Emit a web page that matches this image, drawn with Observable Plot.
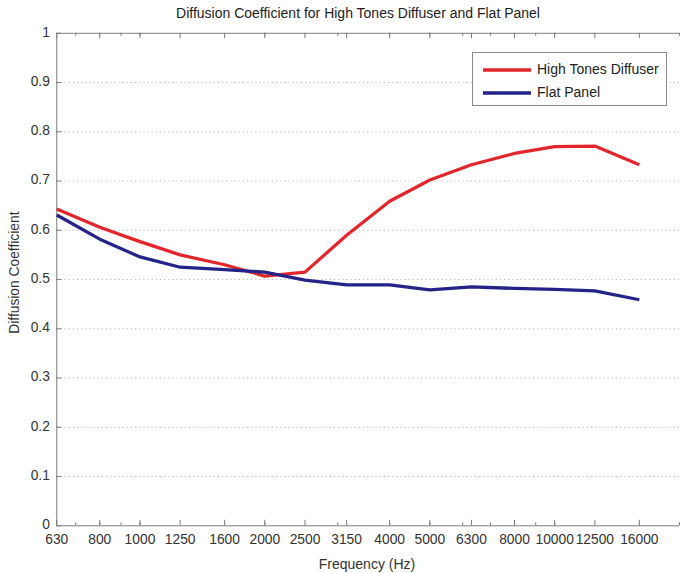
<!DOCTYPE html>
<html>
<head>
<meta charset="utf-8">
<script src="https://cdn.jsdelivr.net/npm/d3@7"></script>
<script src="https://cdn.jsdelivr.net/npm/@observablehq/plot@0.6"></script>
<style>
  html, body { margin: 0; padding: 0; background: #fff; }
  #wrap { position: relative; width: 681px; height: 573px; overflow: hidden; background: #fff;
          font-family: "Liberation Sans", Arial, Helvetica, sans-serif; color: #222; }
  #title { height: 18px; position: relative; }
  #title span { position: absolute; left: 358px; top: 5px; transform: translateX(-50%);
                white-space: nowrap; font-size: 14px; line-height: 16px; color: #222; }
  #chart { width: 681px; height: 539px; }
  #chart svg { display: block; overflow: visible; }
  #xlabel { height: 16px; position: relative; }
  #xlabel span { position: absolute; left: 367px; top: 0px; transform: translateX(-50%);
                 white-space: nowrap; font-size: 14px; line-height: 15px; color: #333; }
  #legend { position: absolute; left: 472px; top: 52px; width: 193px; height: 52px;
            border: 1px solid #8a8a8a; background: #fff; }
  .row { position: absolute; left: 0; height: 16px; font-size: 14px; color: #222; white-space: nowrap; }
  .row svg { position: absolute; left: 10px; top: 7px; }
  .row span { position: absolute; left: 64px; top: 0px; }
</style>
</head>
<body>
<div id="wrap">
  <div id="title"><span>Diffusion Coefficient for High Tones Diffuser and Flat Panel</span></div>
  <div id="chart"></div>
  <div id="xlabel"><span></span></div>
  <div id="legend"></div>
</div>
<script>
// ---- data ----
const freqs = [630, 800, 1000, 1250, 1600, 2000, 2500, 3150, 4000, 5000, 6300, 8000, 10000, 12500, 16000];
const freqLabels = ["630", "800", "1000", "1250", "1600", "2000", "2500", "3150", "4000", "5000", "6300", "8000", "10000", "12500", "16000"];
const diffuser = [0.643, 0.606, 0.577, 0.550, 0.530, 0.507, 0.515, 0.590, 0.659, 0.702, 0.733, 0.756, 0.770, 0.771, 0.733];
const flatPanel = [0.631, 0.582, 0.546, 0.525, 0.520, 0.515, 0.499, 0.489, 0.489, 0.479, 0.485, 0.482, 0.480, 0.477, 0.459];
const seriesNames = ["High Tones Diffuser", "Flat Panel"];
const seriesColors = ["#e3262b", "#24238a"];
const yTicks = [0, 0.1, 0.2, 0.3, 0.4, 0.5, 0.6, 0.7, 0.8, 0.9, 1];
const yTickLabels = ["0", "0.1", "0.2", "0.3", "0.4", "0.5", "0.6", "0.7", "0.8", "0.9", "1"];
const minorX = [700, 800, 900, 1000, 2000, 3000, 4000, 5000, 6000, 7000, 8000, 9000, 10000, 20000];
const xTitle = "Frequency (Hz)";
const yTitle = "Diffusion Coefficient";

const data = freqs.flatMap((f, i) => [
  {f, v: diffuser[i], s: seriesNames[0]},
  {f, v: flatPanel[i], s: seriesNames[1]}
]);
const xTickData = freqs.map((f, i) => ({f, label: freqLabels[i]}));
const yTickData = yTicks.map((v, i) => ({v, label: yTickLabels[i]}));

const axisColor = "#7a7a7a";
const textColor = "#333";

const chart = Plot.plot({
  width: 690,
  height: 539,
  marginLeft: 57,
  marginRight: 2,
  marginTop: 15,
  marginBottom: 25,
  style: {fontFamily: '"Liberation Sans", Arial, sans-serif', fontSize: "14px", color: textColor, background: "#fff", overflow: "visible"},
  x: {type: "log", domain: [630, 20000], axis: null},
  y: {domain: [0, 1], axis: null},
  color: {domain: seriesNames, range: seriesColors},
  marks: [
    Plot.gridY(yTicks.filter(d => d > 0 && d < 1), {stroke: "#b5b5b5", strokeOpacity: 1, strokeDasharray: "1.2,3"}),
    // frame lines
    Plot.ruleY([0, 1], {stroke: axisColor}),
    Plot.ruleX([630], {stroke: axisColor}),
    // inward x ticks (major and minor), bottom and top
    Plot.ruleX(freqs, {x: d => d, y1: 0, y2: 0.011, stroke: axisColor}),
    Plot.ruleX(freqs, {x: d => d, y1: 0.989, y2: 1, stroke: axisColor}),
    Plot.ruleX(minorX, {x: d => d, y1: 0, y2: 0.006, stroke: axisColor}),
    Plot.ruleX(minorX, {x: d => d, y1: 0.994, y2: 1, stroke: axisColor}),
    // inward y ticks
    Plot.axisY(yTicks, {tickSize: 5, dx: 5, tickFormat: () => "", stroke: axisColor, label: null}),
    // tick labels
    Plot.text(yTickData, {y: "v", text: "label", frameAnchor: "left", textAnchor: "end", lineAnchor: "middle", dx: -7, dy: -1, fill: textColor, fontSize: 14}),
    Plot.text(xTickData, {x: "f", text: "label", frameAnchor: "bottom", lineAnchor: "middle", dy: 14, fill: textColor, fontSize: 14}),
    // y axis title
    Plot.text([yTitle], {frameAnchor: "left", textAnchor: "middle", lineAnchor: "middle", dx: -43, dy: -7, rotate: -90, fill: textColor, fontSize: 14}),
    Plot.line(data, {x: "f", y: "v", z: "s", stroke: "s", strokeWidth: 3.3, strokeLinejoin: "round", strokeLinecap: "butt"})
  ]
});
document.getElementById("chart").appendChild(chart);
document.querySelector("#xlabel span").textContent = xTitle;

// legend
const legend = document.getElementById("legend");
seriesNames.forEach((name, i) => {
  const row = document.createElement("div");
  row.className = "row";
  row.style.top = (8 + i * 23) + "px";
  row.innerHTML = `<svg width="48" height="4"><line x1="0" y1="2" x2="48" y2="2" stroke="${seriesColors[i]}" stroke-width="3.3"/></svg><span>${name}</span>`;
  legend.appendChild(row);
});
</script>
</body>
</html>
